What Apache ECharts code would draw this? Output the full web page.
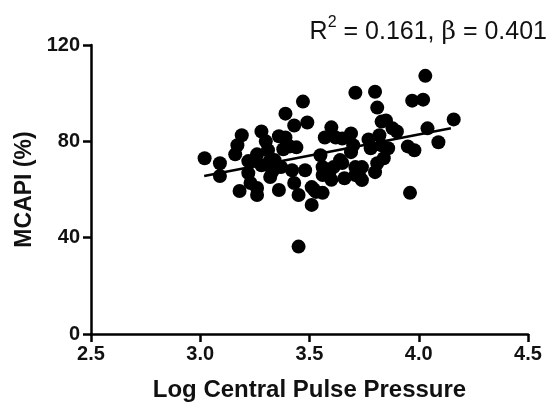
<!DOCTYPE html>
<html>
<head>
<meta charset="utf-8">
<script src="https://cdn.jsdelivr.net/npm/echarts@6/dist/echarts.min.js"></script>
<style>
html,body{margin:0;padding:0;background:#fff;}
#chart{width:554px;height:403px;}
</style>
</head>
<body>
<div id="chart"></div>
<script>
// Scatter data: Log Central Pulse Pressure (x) vs MCAPI % (y)
const xValues = [3.02,3.09,3.09,3.16,3.17,3.19,3.28,3.30,3.31,3.26,3.24,3.22,3.23,3.18,3.26,3.26,3.32,3.36,3.39,3.41,
  3.38,3.44,3.39,3.47,3.43,3.49,3.37,3.42,3.48,3.36,3.43,3.45,3.51,3.53,3.51,3.57,3.56,3.58,3.45,3.96,
  4.03,3.71,3.80,3.81,3.83,3.85,3.88,3.90,3.97,4.02,4.16,4.04,4.09,3.95,3.98,3.60,3.62,3.65,3.69,3.70,
  3.69,3.77,3.82,3.78,3.83,3.86,3.84,3.81,3.80,3.74,3.71,3.71,3.74,3.65,3.61,3.59,3.56,3.28,3.34,3.35,
  3.73,3.22,3.32,3.55,3.64,3.66,3.56,3.60,3.52,3.33];
const yValues = [73.0,70.9,65.6,74.6,78.4,82.5,84.1,80.0,76.3,74.6,71.8,66.8,62.7,59.4,60.6,57.7,65.2,82.1,81.6,77.9,
  76.7,77.5,91.5,96.5,86.6,87.8,69.3,68.0,68.0,59.8,62.7,57.7,61.0,59.0,53.6,81.6,69.3,66.8,36.3,58.6,
  107.2,100.2,100.6,94.0,88.2,88.7,85.4,84.1,96.9,97.3,89.1,85.4,79.6,77.9,76.3,85.8,81.6,81.2,83.3,78.4,
  75.5,80.8,82.5,77.1,78.4,77.1,73.0,70.9,67.2,69.3,69.3,66.0,63.9,71.0,69.3,66.8,58.6,70.1,72.2,69.3,
  65.2,71.8,72.2,74.2,72.2,64.7,66.0,64.0,60.0,67.5];
// Regression line endpoints
const lineX = [3.018, 4.147];
const lineY = [65.6, 85.4];
const xTicks = [2.5, 3.0, 3.5, 4.0, 4.5];
const yTicks = [0, 40, 80, 120];
const xTitle = 'Log Central Pulse Pressure';
const yTitle = 'MCAPI (%)';

const points = xValues.map((x, i) => [x, yValues[i]]);
const linePts = lineX.map((x, i) => [x, lineY[i]]);

const chart = echarts.init(document.getElementById('chart'), null, {renderer: 'canvas'});
const FONT = '"Liberation Sans", Arial, sans-serif';
const axisCommon = {
  axisLine: {show: true, lineStyle: {color: '#000', width: 2.5}},
  axisTick: {show: true, inside: false, length: 8, lineStyle: {color: '#000', width: 2.5}},
  splitLine: {show: false},
  axisLabel: {color: '#111', fontWeight: 'bold', fontSize: 20, fontFamily: FONT, margin: 11}
};
chart.setOption({
  animation: false,
  backgroundColor: '#fff',
  grid: {left: 91, right: 26, top: 45, bottom: 69, containLabel: false, outerBoundsMode: 'none'},
  title: {
    text: '{a|R}{s|2}{a| = 0.161, }{b|β}{a| = 0.401}',
    right: 2, top: 10,
    textStyle: {
      fontWeight: 'normal',
      rich: {
        a: {fontSize: 25, fontWeight: 'normal', fontFamily: FONT, color: '#111', verticalAlign: 'bottom', lineHeight: 30},
        s: {fontSize: 16, fontWeight: 'normal', fontFamily: FONT, color: '#111', verticalAlign: 'top', padding: [0,0,16,0], lineHeight: 30},
        b: {fontSize: 25, fontWeight: 'normal', fontFamily: '"DejaVu Serif", "Liberation Serif", serif', color: '#111', verticalAlign: 'bottom', lineHeight: 30}
      }
    }
  },
  xAxis: Object.assign({}, axisCommon, {
    type: 'value', min: xTicks[0], max: xTicks[xTicks.length-1], interval: 0.5,
    name: xTitle, nameLocation: 'middle', nameGap: 44,
    nameTextStyle: {fontSize: 24, fontWeight: 'bold', fontFamily: FONT, color: '#111'},
    axisLabel: Object.assign({}, axisCommon.axisLabel, {formatter: v => v.toFixed(1), margin: 10})
  }),
  yAxis: Object.assign({}, axisCommon, {
    type: 'value', min: yTicks[0], max: yTicks[yTicks.length-1], interval: 40,
    name: yTitle, nameLocation: 'middle', nameGap: 54, nameRotate: 90,
    nameTextStyle: {fontSize: 23, fontWeight: 'bold', fontFamily: FONT, color: '#111'}
  }),
  series: [
    {
      type: 'scatter', data: points, symbol: 'circle', symbolSize: 14,
      itemStyle: {color: '#000', opacity: 1}, z: 3
    },
    {
      type: 'line', data: linePts, symbol: 'none',
      lineStyle: {color: '#000', width: 2.5}, z: 4
    }
  ]
});
</script>
</body>
</html>
